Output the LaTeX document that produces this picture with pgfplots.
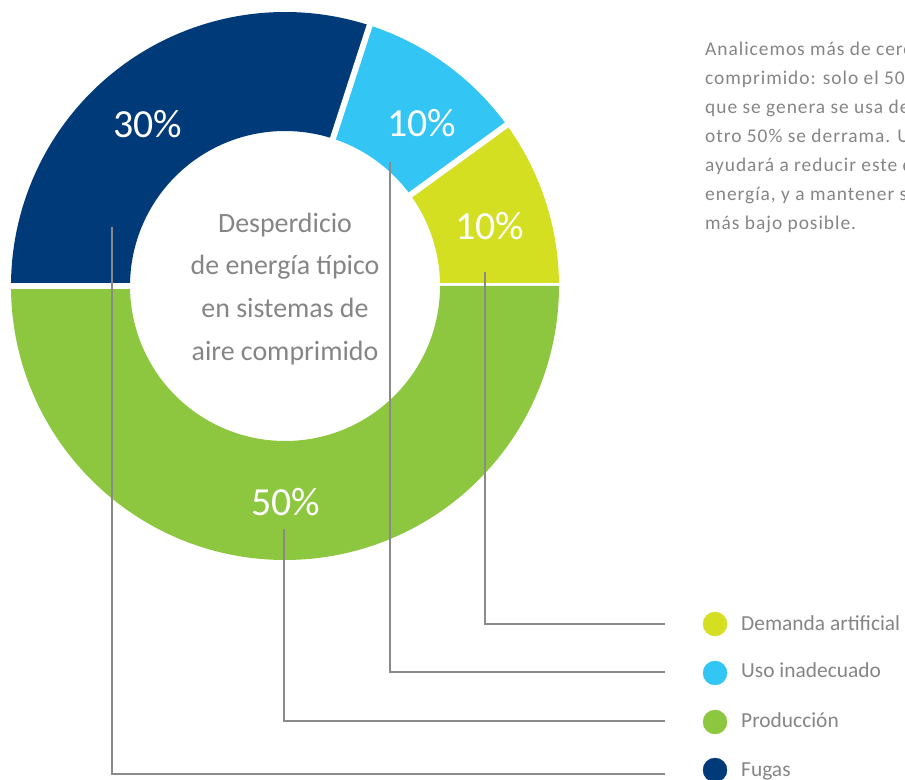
\documentclass[border=0pt]{standalone}
\usepackage{pgfplots}
\pgfplotsset{compat=1.18}
\usepackage{fontspec}
\setmainfont{Carlito}
\newfontfamily\parafont[LetterSpace=5]{Carlito}

\definecolor{navy}{HTML}{003A78}
\definecolor{sky}{HTML}{33C5F3}
\definecolor{lime}{HTML}{D5DF22}
\definecolor{leaf}{HTML}{8DC63F}
\definecolor{txt}{HTML}{858585}
\definecolor{lead}{HTML}{8A8A8A}

% centre and radii of the ring, in bp (= axis units)
\def\cx{285}
\def\cy{494}
\def\Ro{274}
\def\Ri{155}

% \slice{start percent}{percent}{colour}
% (angles written out as expressions: the axis runs these commands late)
\newcommand\slice[3]{%
  \fill[#3] (axis cs:\cx,\cy) ++({#1*3.6}:\Ro bp)
    arc[start angle={#1*3.6}, end angle={(#1+#2)*3.6}, radius=\Ro bp]
    -- ++({(#1+#2)*3.6}:{\Ri bp-\Ro bp})
    arc[start angle={(#1+#2)*3.6}, end angle={#1*3.6}, radius=\Ri bp] -- cycle;
  \draw[white, line width=6bp] (axis cs:\cx,\cy) ++({#1*3.6}:{\Ri bp-4bp}) -- ++({#1*3.6}:{\Ro bp-\Ri bp+8bp});
}
\newcommand\para[2]{%
  \node[txt, anchor=base west, inner sep=0pt, font=\parafont\fontsize{19.5}{19.5}\selectfont]
    at (axis cs:705,#1) {#2};
}

\begin{document}
\begin{tikzpicture}
\begin{axis}[
    scale only axis,
    width=905bp, height=780bp,
    xmin=0, xmax=905, ymin=0, ymax=780,
    hide axis,
    clip=false,
]
% slices: Demanda 10, Uso 10, Fugas 30, Produccion 50
\slice{0}{10}{lime}
\slice{10}{10}{sky}
\slice{20}{30}{navy}
\slice{50}{50}{leaf}

% leader lines
\addplot[lead, line width=2bp] coordinates {(112,553) (112,6) (665,6)};
\addplot[lead, line width=2bp] coordinates {(284,251) (284,59) (665,59)};
\addplot[lead, line width=2bp] coordinates {(390,618) (390,108) (665,108)};
\addplot[lead, line width=2bp] coordinates {(485,508) (485,156) (665,156)};

% legend dots
\addplot[only marks, mark=*, mark size=12bp, lime] coordinates {(715,156)};
\addplot[only marks, mark=*, mark size=12bp, sky] coordinates {(715,107)};
\addplot[only marks, mark=*, mark size=12bp, leaf] coordinates {(715,58)};
\addplot[only marks, mark=*, mark size=12bp, navy] coordinates {(715,10)};

% percentages
\node[white, anchor=base, font=\fontsize{40}{40}\selectfont] at (axis cs:148,642) {30\%};
\node[white, anchor=base, font=\fontsize{40}{40}\selectfont] at (axis cs:422,643) {10\%};
\node[white, anchor=base, font=\fontsize{40}{40}\selectfont] at (axis cs:490,540) {10\%};
\node[white, anchor=base, font=\fontsize{40}{40}\selectfont] at (axis cs:286,265) {50\%};

% centre text
\node[txt, anchor=base, font=\fontsize{28}{28}\selectfont] at (axis cs:285,547) {Desperdicio};
\node[txt, anchor=base, font=\fontsize{28}{28}\selectfont] at (axis cs:285,505) {de energía típico};
\node[txt, anchor=base, font=\fontsize{28}{28}\selectfont] at (axis cs:285,462) {en sistemas de};
\node[txt, anchor=base, font=\fontsize{28}{28}\selectfont] at (axis cs:285,419) {aire comprimido};

% legend labels
\node[txt, anchor=base west, inner sep=0pt, font=\fontsize{21.5}{21.5}\selectfont] at (axis cs:741,150) {Demanda artificial};
\node[txt, anchor=base west, inner sep=0pt, font=\fontsize{21.5}{21.5}\selectfont] at (axis cs:741,103) {Uso inadecuado};
\node[txt, anchor=base west, inner sep=0pt, font=\fontsize{21.5}{21.5}\selectfont] at (axis cs:741,53) {Producción};
\node[txt, anchor=base west, inner sep=0pt, font=\fontsize{21.5}{21.5}\selectfont] at (axis cs:741,4) {Fugas};

% side paragraph (runs past the right edge, as in the original)
\para{724}{Analicemos más de cerca el aire}
\para{695}{comprimido: solo el 50\% del aire}
\para{666}{que se genera se usa de verdad; el}
\para{637}{otro 50\% se derrama. Un análisis le}
\para{608}{ayudará a reducir este desperdicio de}
\para{579}{energía, y a mantener sus costes lo}
\para{550}{más bajo posible.}
\end{axis}
\pgfresetboundingbox
\useasboundingbox (0,0) rectangle (905bp,780bp);
\end{tikzpicture}
\end{document}
